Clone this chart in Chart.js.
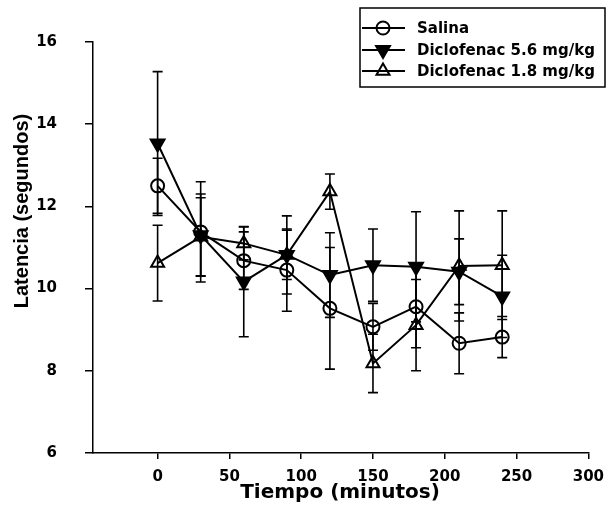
<!DOCTYPE html>
<html>
<head>
<meta charset="utf-8">
<script src="https://cdn.jsdelivr.net/npm/chart.js@4/dist/chart.umd.min.js"></script>
<style>
  html, body { margin: 0; padding: 0; background: #ffffff; }
  #wrap { width: 613px; height: 527px; }
</style>
</head>
<body>
<div id="wrap"><canvas id="c" width="613" height="527"></canvas></div>
<script>
// ---- data ----
const times = [0, 30, 60, 90, 120, 150, 180, 210, 240];
const seriesNames = ["Salina", "Diclofenac 5.6 mg/kg", "Diclofenac 1.8 mg/kg"];
const salina    = [12.50, 11.38, 10.68, 10.45, 9.52, 9.07, 9.56, 8.67, 8.82];
const salinaErr = [0.67, 1.22, 0.70, 1.00, 1.48, 0.57, 1.00, 0.74, 0.50];
const dic56     = [13.53, 11.30, 10.17, 10.82, 10.33, 10.57, 10.53, 10.41, 9.81];
const dic56Err  = [1.75, 1.00, 1.34, 0.95, 1.03, 0.88, 1.34, 0.80, 1.00];
const dic18     = [10.62, 11.26, 11.10, 10.82, 12.36, 8.18, 9.11, 10.55, 10.57];
const dic18Err  = [0.92, 0.95, 0.40, 0.60, 0.43, 0.71, 1.11, 1.34, 1.32];
const xTicks = [0, 50, 100, 150, 200, 250, 300];
const yTicks = [6, 8, 10, 12, 14, 16];
const xTitle = "Tiempo (minutos)";
const yTitle = "Latencia (segundos)";

const errors = [salinaErr, dic56Err, dic18Err];
const tickFont = { family: "'DejaVu Sans', sans-serif", size: 15, weight: 'bold' };

function pts(vals) { return times.map((t, i) => ({ x: t, y: vals[i] })); }

const markerDefs = [
  { style: 'circle',   radius: 6.5, rot: 0,   fill: 'rgba(0,0,0,0)' },
  { style: 'triangle', radius: 8,   rot: 180, fill: '#000' },
  { style: 'triangle', radius: 7.5, rot: 0,   fill: 'rgba(0,0,0,0)' }
];
const seriesVals = [salina, dic56, dic18];

const datasets = seriesVals.map((v, i) => ({
  label: seriesNames[i],
  data: pts(v),
  borderColor: '#000',
  borderWidth: 2,
  showLine: true,
  tension: 0,
  pointStyle: markerDefs[i].style,
  pointRadius: markerDefs[i].radius,
  pointRotation: markerDefs[i].rot,
  pointBackgroundColor: markerDefs[i].fill,
  pointBorderColor: '#000',
  pointBorderWidth: 2,
  fill: false
}));

const errorBars = {
  id: 'errorBars',
  beforeDatasetsDraw(chart) {
    const ctx = chart.ctx, xs = chart.scales.x, ys = chart.scales.y;
    ctx.save();
    ctx.strokeStyle = '#000';
    ctx.lineWidth = 1.6;
    seriesVals.forEach((vals, s) => {
      vals.forEach((v, i) => {
        const e = errors[s][i];
        const px = xs.getPixelForValue(times[i]);
        const top = ys.getPixelForValue(v + e);
        const bot = ys.getPixelForValue(v - e);
        ctx.beginPath();
        ctx.moveTo(px, top); ctx.lineTo(px, bot);
        ctx.moveTo(px - 5, top); ctx.lineTo(px + 5, top);
        ctx.moveTo(px - 5, bot); ctx.lineTo(px + 5, bot);
        ctx.stroke();
      });
    });
    ctx.restore();
  }
};

function drawMarker(ctx, i, x, y) {
  const m = markerDefs[i];
  Chart.helpers.drawPoint(ctx, {
    pointStyle: m.style, radius: m.radius, rotation: m.rot, borderWidth: 2
  }, x, y);
}

const decorations = {
  id: 'decorations',
  afterDraw(chart) {
    const ctx = chart.ctx;
    ctx.save();
    // axis titles
    ctx.fillStyle = '#000';
    ctx.textAlign = 'center';
    ctx.textBaseline = 'middle';
    ctx.font = "bold 20px 'DejaVu Sans', sans-serif";
    ctx.fillText(xTitle, 340, 493);
    ctx.save();
    ctx.translate(22, 211);
    ctx.rotate(-Math.PI / 2);
    ctx.font = "bold 20px 'Liberation Sans', Arial, sans-serif";
    ctx.fillText(yTitle, 0, 0);
    ctx.restore();

    // legend box
    ctx.strokeStyle = '#000';
    ctx.lineWidth = 1.5;
    ctx.strokeRect(360, 8, 245, 79);
    const rows = [28, 50, 71];
    ctx.font = "bold 15px 'DejaVu Sans', sans-serif";
    ctx.textAlign = 'left';
    rows.forEach((ry, i) => {
      ctx.strokeStyle = '#000';
      ctx.lineWidth = 2;
      ctx.beginPath();
      ctx.moveTo(362, ry); ctx.lineTo(405, ry);
      ctx.stroke();
      ctx.fillStyle = markerDefs[i].fill;
      ctx.strokeStyle = '#000';
      drawMarker(ctx, i, 383, ry);
      ctx.fillStyle = '#000';
      ctx.fillText(seriesNames[i], 417, ry + 1);
    });
    ctx.restore();
  }
};

new Chart(document.getElementById('c'), {
  type: 'scatter',
  data: { datasets },
  options: {
    responsive: false,
    devicePixelRatio: 1,
    animation: false,
    layout: { padding: { left: 0, right: 18, top: 42, bottom: 0 } },
    plugins: { legend: { display: false }, tooltip: { enabled: false } },
    scales: {
      x: {
        type: 'linear',
        min: -45, max: 300,
        afterFit(s) { s.height = 74; },
        afterBuildTicks(s) { s.ticks = xTicks.map(v => ({ value: v })); },
        grid: { drawOnChartArea: false, drawTicks: true, tickLength: 6, color: '#000', lineWidth: 1.5 },
        border: { display: true, color: '#000', width: 1.5 },
        ticks: { color: '#000', font: tickFont, padding: 9, maxRotation: 0 }
      },
      y: {
        type: 'linear',
        min: 6, max: 16,
        afterFit(s) { s.width = 93; },
        afterBuildTicks(s) { s.ticks = yTicks.map(v => ({ value: v })); },
        grid: { drawOnChartArea: false, drawTicks: true, tickLength: 8, color: '#000', lineWidth: 1.5 },
        border: { display: true, color: '#000', width: 1.5 },
        ticks: { color: '#000', font: tickFont, padding: 28 }
      }
    }
  },
  plugins: [errorBars, decorations]
});
</script>
</body>
</html>
